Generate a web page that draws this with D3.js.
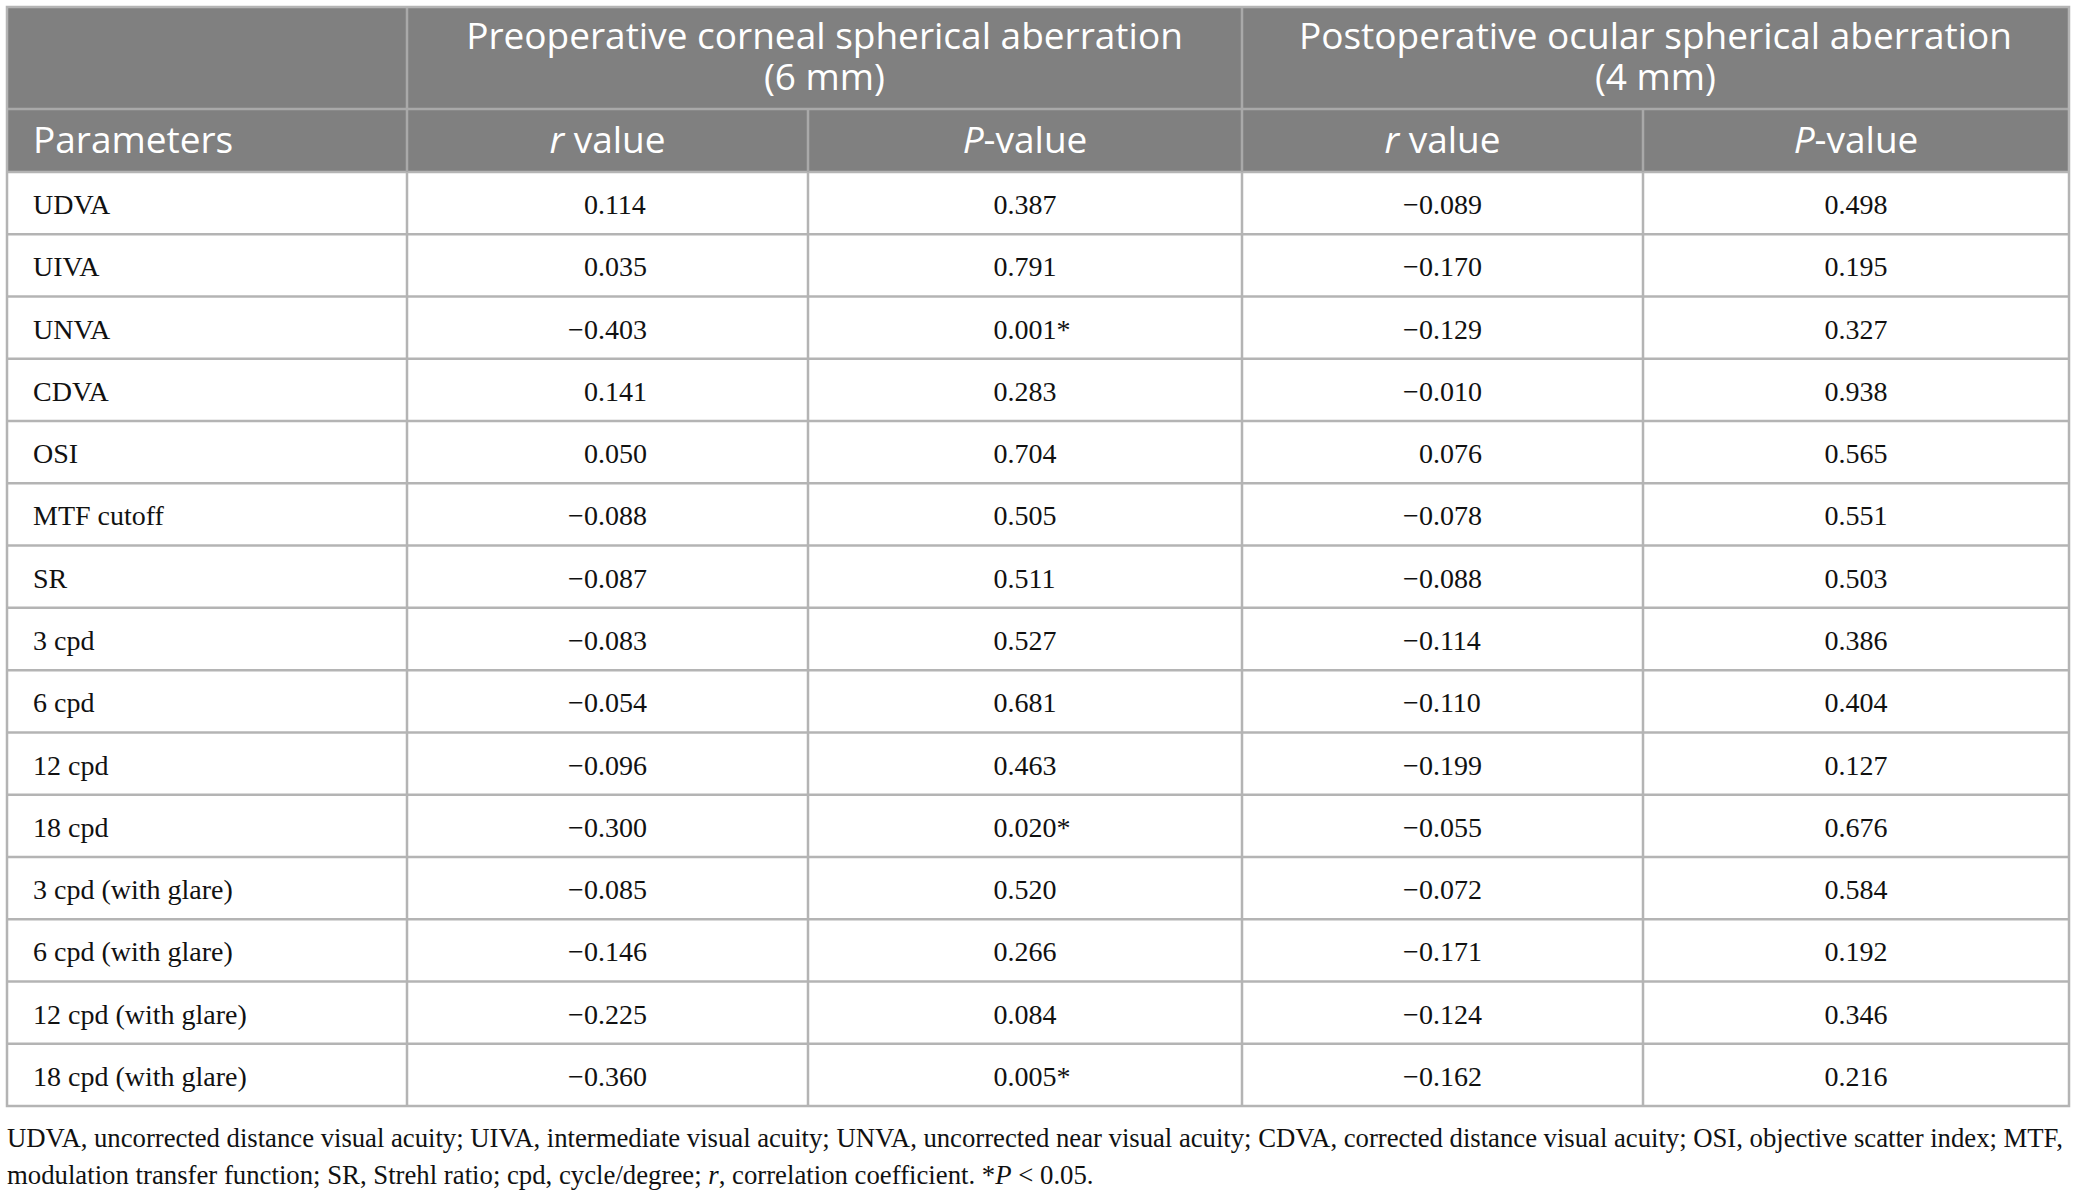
<!DOCTYPE html>
<html>
<head>
<meta charset="utf-8">
<script src="https://cdn.jsdelivr.net/npm/d3@7"></script>
<style>
  html, body { margin: 0; padding: 0; background: #ffffff; }
  svg { display: block; }
</style>
</head>
<body>
<script>
// ---------------- DATA ----------------
const parameters = ["UDVA","UIVA","UNVA","CDVA","OSI","MTF cutoff","SR","3 cpd","6 cpd","12 cpd","18 cpd",
  "3 cpd (with glare)","6 cpd (with glare)","12 cpd (with glare)","18 cpd (with glare)"];
const preR  = [0.114, 0.035, -0.403, 0.141, 0.050, -0.088, -0.087, -0.083, -0.054, -0.096, -0.300, -0.085, -0.146, -0.225, -0.360];
const preP  = [0.387, 0.791, 0.001, 0.283, 0.704, 0.505, 0.511, 0.527, 0.681, 0.463, 0.020, 0.520, 0.266, 0.084, 0.005];
const postR = [-0.089, -0.170, -0.129, -0.010, 0.076, -0.078, -0.088, -0.114, -0.110, -0.199, -0.055, -0.072, -0.171, -0.124, -0.162];
const postP = [0.498, 0.195, 0.327, 0.938, 0.565, 0.551, 0.503, 0.386, 0.404, 0.127, 0.676, 0.584, 0.192, 0.346, 0.216];
const groupTitles = [["Preoperative corneal spherical aberration", "(6 mm)"],
                     ["Postoperative ocular spherical aberration", "(4 mm)"]];
const subHeaders = [[{t:"Parameters"}], [{t:"r",i:true},{t:" value"}], [{t:"P",i:true},{t:"-value"}],
                    [{t:"r",i:true},{t:" value"}], [{t:"P",i:true},{t:"-value"}]];
const footLine1 = [{t:"UDVA, uncorrected distance visual acuity; UIVA, intermediate visual acuity; UNVA, uncorrected near visual acuity; CDVA, corrected distance visual acuity; OSI, objective scatter index; MTF,"}];
const footLine2 = [{t:"modulation transfer function; SR, Strehl ratio; cpd, cycle/degree; "},{t:"r",i:true},
                   {t:", correlation coefficient. *"},{t:"P",i:true},{t:" < 0.05."}];
const sigLevel = 0.05;

// ---------------- LAYOUT ----------------
const W = 2076, H = 1197;
const colKeys = ["param","preR","preP","postR","postP"];
const colEdges = [7, 407, 808, 1242, 1643, 2069];
const tableTop = 7, headMid = 109, headBottom = 172, tableBottom = 1106;
const headFill = "#808080", lineCol = "#b4b4b4", headLine = "#a9a9a9";
const sansFont = "'Open Sans', 'Noto Sans', sans-serif";
const serifFont = "'Liberation Serif', 'Times New Roman', serif";
const bodySize = 28, headSize = 37;

const svg = d3.select("body").append("svg").attr("width", W).attr("height", H);

const y = d3.scaleBand().domain(parameters).range([headBottom, tableBottom]);
const colX = d3.scaleOrdinal().domain(colKeys).range(colEdges.slice(0, 5));
const colW = d3.scaleOrdinal().domain(colKeys).range(colEdges.slice(1).map((e, i) => e - colEdges[i]));
const fmt = d3.format(".3f");

function measure(str, font, size, italic) {
  const t = svg.append("text").attr("font-family", font).attr("font-size", size)
    .attr("font-style", italic ? "italic" : "normal").text(str);
  const w = t.node().getComputedTextLength();
  t.remove();
  return w;
}
function rich(sel, parts) {
  parts.forEach(p => sel.append("tspan").attr("font-style", p.i ? "italic" : "normal").text(p.t));
  return sel;
}

// header background
svg.append("rect").attr("x", colEdges[0]).attr("y", tableTop)
  .attr("width", colEdges[5] - colEdges[0]).attr("height", headBottom - tableTop).attr("fill", headFill);

// group titles (row 1), two lines in one text element
const groups = [[colX("preR"), colEdges[3]], [colX("postR"), colEdges[5]]];
groups.forEach((g, gi) => {
  const cx = (g[0] + g[1]) / 2;
  const t = svg.append("text").attr("y", 49)
    .attr("text-anchor", "middle").attr("font-family", sansFont).attr("font-size", headSize)
    .attr("fill", "#ffffff");
  groupTitles[gi].forEach((line, li) => {
    t.append("tspan").attr("x", cx).attr("dy", li === 0 ? 0 : 41).text(line);
  });
});

// sub headers (row 2)
colKeys.forEach((k, i) => {
  const t = svg.append("text").attr("y", 153).attr("font-family", sansFont).attr("font-size", headSize)
    .attr("fill", "#ffffff");
  if (i === 0) t.attr("x", colX(k) + 26).attr("text-anchor", "start");
  else t.attr("x", colX(k) + colW(k) / 2).attr("text-anchor", "middle");
  rich(t, subHeaders[i]);
});

// body: parameter labels
svg.append("g").selectAll("text").data(parameters).join("text")
  .attr("x", colX("param") + 26)
  .attr("y", d => y(d) + y.bandwidth() / 2 + 11)
  .attr("font-family", serifFont).attr("font-size", bodySize).attr("fill", "#111111")
  .text(d => d);

// body: numeric columns, decimal aligned
const numCols = [["preR", preR, false], ["preP", preP, true], ["postR", postR, false], ["postP", postP, true]];
numCols.forEach(([key, vals, isP]) => {
  const items = vals.map((v, i) => {
    const s = fmt(v);
    const [pre, suf] = s.split(".");
    return {param: parameters[i], pre, suf: "." + suf, star: isP && v < sigLevel};
  });
  const preW = items.map(d => measure(d.pre, serifFont, bodySize));
  const maxPre = d3.max(preW);
  const maxSuf = d3.max(items, d => measure(d.suf, serifFont, bodySize));
  const center = colX(key) + colW(key) / 2;
  const decX = center - (maxPre + maxSuf) / 2 + maxPre;
  svg.append("g").selectAll("text").data(items).join("text")
    .attr("x", (d, i) => decX - preW[i])
    .attr("y", d => y(d.param) + y.bandwidth() / 2 + 11)
    .attr("font-family", serifFont).attr("font-size", bodySize).attr("fill", "#111111")
    .text(d => d.pre + d.suf + (d.star ? "*" : ""));
});

// grid lines
const hLinesBody = parameters.slice(1).map(p => y(p));
const gl = svg.append("g").attr("stroke-width", 2.5).attr("fill", "none");
gl.append("line").attr("x1", colEdges[0]).attr("x2", colEdges[5]).attr("y1", headMid).attr("y2", headMid).attr("stroke", headLine);
gl.append("line").attr("x1", colEdges[0]).attr("x2", colEdges[5]).attr("y1", headBottom).attr("y2", headBottom).attr("stroke", lineCol);
gl.selectAll("line.hb").data(hLinesBody).join("line")
  .attr("x1", colEdges[0]).attr("x2", colEdges[5]).attr("y1", d => d).attr("y2", d => d).attr("stroke", lineCol);
[colEdges[1], colEdges[3]].forEach(x => {
  gl.append("line").attr("x1", x).attr("x2", x).attr("y1", tableTop).attr("y2", headBottom).attr("stroke", headLine);
  gl.append("line").attr("x1", x).attr("x2", x).attr("y1", headBottom).attr("y2", tableBottom).attr("stroke", lineCol);
});
[colEdges[2], colEdges[4]].forEach(x => {
  gl.append("line").attr("x1", x).attr("x2", x).attr("y1", headMid).attr("y2", headBottom).attr("stroke", headLine);
  gl.append("line").attr("x1", x).attr("x2", x).attr("y1", headBottom).attr("y2", tableBottom).attr("stroke", lineCol);
});
gl.append("rect").attr("x", colEdges[0]).attr("y", tableTop).attr("width", colEdges[5] - colEdges[0])
  .attr("height", tableBottom - tableTop).attr("stroke", lineCol);

// footnote
const f2 = rich(svg.append("text").attr("x", 7).attr("y", 1184).attr("font-family", serifFont)
  .attr("font-size", bodySize).attr("fill", "#111111"), footLine2);
const w2 = f2.node().getComputedTextLength();
const footSize = bodySize * 1087 / w2;
f2.attr("font-size", footSize);
const f1 = rich(svg.append("text").attr("x", 7).attr("y", 1147).attr("font-family", serifFont)
  .attr("font-size", footSize).attr("fill", "#111111"), footLine1);
f1.attr("textLength", 2056).attr("lengthAdjust", "spacing");
</script>
</body>
</html>
